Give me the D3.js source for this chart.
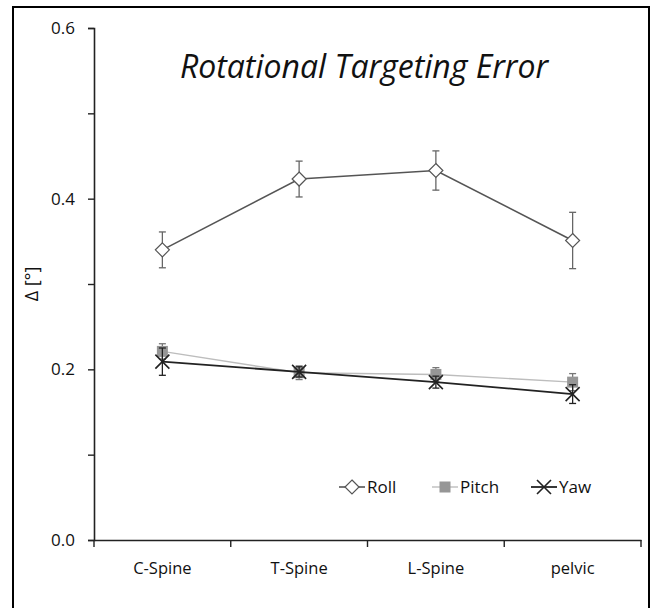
<!DOCTYPE html>
<html><head><meta charset="utf-8">
<script src="https://cdn.jsdelivr.net/npm/d3@7"></script>
<style>body{margin:0;background:#fff}svg{display:block}</style>
</head><body>
<script>
const categories = ["C-Spine","T-Spine","L-Spine","pelvic"];
const rollValues = [0.340, 0.423, 0.433, 0.351];
const rollErr    = [0.021, 0.021, 0.023, 0.033];
const pitchValues = [0.221, 0.196, 0.194, 0.185];
const pitchErr    = [0.009, 0.008, 0.008, 0.010];
const yawValues = [0.209, 0.197, 0.185, 0.171];
const yawErr    = [0.016, 0.006, 0.007, 0.011];
const yTicks = [0, 0.1, 0.2, 0.3, 0.4, 0.5, 0.6];
const yLabeled = [0, 0.2, 0.4, 0.6];
const seriesNames = ["Roll","Pitch","Yaw"];

const W = 655, H = 608;
const svg = d3.select("body").append("svg").attr("width", W).attr("height", H);
const font = "'Open Sans', Calibri, sans-serif";

svg.append("rect").attr("x",13).attr("y",7).attr("width",636).attr("height",H+20)
  .attr("fill","#fff").attr("stroke","#000").attr("stroke-width",2);

const x = d3.scaleBand().domain(categories).range([94, 641]);
const y = d3.scaleLinear().domain([0, 0.6]).range([540, 28]);

// Y axis
const yAxis = d3.axisLeft(y).tickValues(yTicks).tickSize(6).tickPadding(13)
  .tickFormat(d => yLabeled.some(v => Math.abs(v-d)<1e-9) ? d3.format(".1f")(d) : "");
const gy = svg.append("g").attr("transform","translate(94,0)").call(yAxis);
gy.select(".domain").attr("stroke","#222").attr("stroke-width",1.6);
gy.selectAll(".tick line").attr("stroke","#222").attr("stroke-width",1.4);
gy.selectAll(".tick text").attr("font-family",font).attr("font-size",17).attr("fill","#111");

// X axis
const xAxis = d3.axisBottom(x).tickSize(0).tickPadding(22);
const gx = svg.append("g").attr("transform","translate(0,540)").call(xAxis);
gx.select(".domain").attr("stroke","#222").attr("stroke-width",1.6);
gx.selectAll(".tick text").attr("font-family",font).attr("font-size",16.5).attr("fill","#111");
// boundary ticks
const bounds = categories.map(c => x(c)).concat([x.range()[1]]);
svg.append("g").selectAll("line").data(bounds).join("line")
  .attr("x1",d=>d).attr("x2",d=>d).attr("y1",540).attr("y2",547)
  .attr("stroke","#222").attr("stroke-width",1.4);

const cx = c => x(c) + x.bandwidth()/2;

// Title
svg.append("text").attr("x",364).attr("y",78).attr("text-anchor","middle")
  .attr("font-family",font).attr("font-style","italic").attr("font-size",32)
  .attr("fill","#111").text("Rotational Targeting Error");

// Y label
svg.append("text").attr("transform","translate(38,284) rotate(-90)")
  .attr("text-anchor","middle").attr("font-family",font).attr("font-size",18)
  .attr("fill","#111").text("Δ [°]");

const series = [
  {name:"Roll", vals:rollValues, err:rollErr, line:"#555", lw:1.6, ec:"#666"},
  {name:"Pitch", vals:pitchValues, err:pitchErr, line:"#bdbdbd", lw:1.4, ec:"#777"},
  {name:"Yaw", vals:yawValues, err:yawErr, line:"#222", lw:1.8, ec:"#222"}
];

const lineGen = d3.line().x(d=>cx(d.c)).y(d=>y(d.v));

function drawMarker(g, name, px, py){
  if(name==="Roll"){
    g.append("path").attr("d",`M${px},${py-7}L${px+7},${py}L${px},${py+7}L${px-7},${py}Z`)
      .attr("fill","#fff").attr("stroke","#555").attr("stroke-width",1.2);
  } else if(name==="Pitch"){
    g.append("rect").attr("x",px-5.5).attr("y",py-5.5).attr("width",11).attr("height",11)
      .attr("fill","#969696");
  } else {
    g.append("path").attr("d",`M${px-7},${py-7}L${px+7},${py+7}M${px-7},${py+7}L${px+7},${py-7}`)
      .attr("stroke","#222").attr("stroke-width",1.6).attr("fill","none");
  }
}

series.forEach(s => {
  const pts = categories.map((c,i)=>({c, v:s.vals[i], e:s.err[i]}));
  const g = svg.append("g");
  pts.forEach(p=>{
    const px = cx(p.c);
    g.append("line").attr("x1",px).attr("x2",px).attr("y1",y(p.v+p.e)).attr("y2",y(p.v-p.e))
      .attr("stroke",s.ec).attr("stroke-width",1.3);
    [p.v+p.e, p.v-p.e].forEach(v=>{
      g.append("line").attr("x1",px-3.5).attr("x2",px+3.5).attr("y1",y(v)).attr("y2",y(v))
        .attr("stroke",s.ec).attr("stroke-width",1.3);
    });
  });
  g.append("path").datum(pts).attr("d",lineGen).attr("fill","none")
    .attr("stroke",s.line).attr("stroke-width",s.lw);
  pts.forEach(p=>drawMarker(g, s.name, cx(p.c), y(p.v)));
});

// Legend
const legendX = [339, 432, 531];
const legY = 487;
series.forEach((s,i)=>{
  const g = svg.append("g");
  const lx = legendX[i];
  g.append("line").attr("x1",lx).attr("x2",lx+26).attr("y1",legY).attr("y2",legY)
    .attr("stroke",s.line).attr("stroke-width",s.lw);
  drawMarker(g, s.name, lx+13, legY);
  g.append("text").attr("x",lx+28).attr("y",legY).attr("dy","0.35em")
    .attr("font-family",font).attr("font-size",17).attr("fill","#111").text(s.name);
});
</script>
</body></html>
